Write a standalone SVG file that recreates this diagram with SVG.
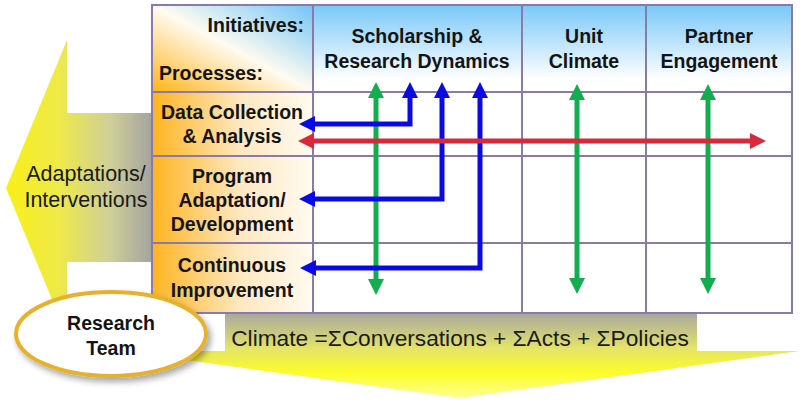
<svg xmlns="http://www.w3.org/2000/svg" width="800" height="400" viewBox="0 0 800 400">
<defs>
<style>
.b{font-family:"Liberation Sans",Arial,sans-serif;font-weight:bold;font-size:19.5px;fill:#141414;text-anchor:middle}
.r{font-family:"Liberation Sans",Arial,sans-serif;font-size:21.5px;fill:#1a1a1a;text-anchor:middle}
.grid{stroke:#8a7aa8;stroke-width:2}
.g{fill:none;stroke:#12ad4f;stroke-width:5}
.bl{fill:none;stroke:#0a0ae6;stroke-width:5;stroke-linejoin:miter}
.rd{fill:none;stroke:#d8283a;stroke-width:5}
</style>
<linearGradient id="gLeft" gradientUnits="userSpaceOnUse" x1="6" y1="0" x2="155" y2="0">
<stop offset="0" stop-color="#f8f018"/><stop offset="0.35" stop-color="#eeea48"/><stop offset="0.7" stop-color="#cfcf98"/><stop offset="1" stop-color="#a0a0a0"/>
</linearGradient>
<linearGradient id="gDown" gradientUnits="userSpaceOnUse" x1="0" y1="313" x2="0" y2="398">
<stop offset="0" stop-color="#a8a8a0"/><stop offset="0.42" stop-color="#e4e468"/><stop offset="0.7" stop-color="#fcfc28"/><stop offset="1" stop-color="#ffff90"/>
</linearGradient>
<linearGradient id="gHead" x1="0" y1="0" x2="0" y2="1">
<stop offset="0" stop-color="#78c8f8"/><stop offset="0.85" stop-color="#ffffff"/>
</linearGradient>
<linearGradient id="gCorner" x1="0" y1="1" x2="1" y2="0">
<stop offset="0" stop-color="#ffb418"/><stop offset="0.5" stop-color="#fffbf0"/><stop offset="1" stop-color="#70c4f8"/>
</linearGradient>
<linearGradient id="gRow" x1="0" y1="0" x2="1" y2="0">
<stop offset="0" stop-color="#ffb420"/><stop offset="0.55" stop-color="#fde8c0"/><stop offset="1" stop-color="#fffaf0"/>
</linearGradient>
<filter id="shadow" x="-20%" y="-20%" width="140%" height="150%">
<feDropShadow dx="3" dy="4" stdDeviation="3" flood-color="#000" flood-opacity="0.35"/>
</filter>
<marker id="mG" viewBox="0 0 16 16" markerWidth="16" markerHeight="16" markerUnits="userSpaceOnUse" refX="4" refY="8" orient="auto-start-reverse"><path d="M0,0 L16,8 L0,16 z" fill="#12ad4f"/></marker>
<marker id="mB" viewBox="0 0 16 16" markerWidth="16" markerHeight="16" markerUnits="userSpaceOnUse" refX="4" refY="8" orient="auto-start-reverse"><path d="M0,0 L16,8 L0,16 z" fill="#0a0ae6"/></marker>
<marker id="mR" viewBox="0 0 16 16" markerWidth="16" markerHeight="16" markerUnits="userSpaceOnUse" refX="4" refY="8" orient="auto-start-reverse"><path d="M0,0 L16,8 L0,16 z" fill="#d8283a"/></marker>
</defs>
<rect width="800" height="400" fill="#ffffff"/>

<g id="adaptations-arrow">
<path d="M160,113 H67 V40 L6,188 L67,336 V262 H160 Z" fill="url(#gLeft)"/>
<text class="r" x="86" y="181">Adaptations/</text>
<text class="r" x="86" y="207">Interventions</text>
</g>

<g id="climate-arrow">
<path d="M225,300 H697 V351 H800 L460,398 L120,351 H225 Z" fill="url(#gDown)"/>
<text class="r" x="460" y="346" style="font-size:22.7px">Climate =ΣConversations + ΣActs + ΣPolicies</text>
</g>

<g id="table">
<g id="corner-cell">
<rect x="152" y="5" width="161" height="87" fill="url(#gCorner)"/>
<text class="b" x="304" y="32" style="text-anchor:end">Initiatives:</text>
<text class="b" x="159" y="80" style="text-anchor:start">Processes:</text>
</g>
<g id="init-scholarship">
<rect x="313" y="5" width="209" height="87" fill="url(#gHead)"/>
<text class="b" x="417" y="43">Scholarship &amp;</text>
<text class="b" x="417" y="68">Research Dynamics</text>
</g>
<g id="init-unit-climate">
<rect x="522" y="5" width="124" height="87" fill="url(#gHead)"/>
<text class="b" x="584" y="43">Unit</text>
<text class="b" x="584" y="68">Climate</text>
</g>
<g id="init-partner">
<rect x="646" y="5" width="146" height="87" fill="url(#gHead)"/>
<text class="b" x="719" y="43">Partner</text>
<text class="b" x="719" y="68">Engagement</text>
</g>
<g id="proc-data">
<rect x="152" y="92" width="161" height="64" fill="url(#gRow)"/>
<text class="b" x="232" y="119">Data Collection</text>
<text class="b" x="232" y="143">&amp; Analysis</text>
</g>
<g id="proc-program">
<rect x="152" y="156" width="161" height="87" fill="url(#gRow)"/>
<text class="b" x="232" y="183">Program</text>
<text class="b" x="232" y="207">Adaptation/</text>
<text class="b" x="232" y="231">Development</text>
</g>
<g id="proc-continuous">
<rect x="152" y="243" width="161" height="70" fill="url(#gRow)"/>
<text class="b" x="232" y="272">Continuous</text>
<text class="b" x="232" y="297">Improvement</text>
</g>
<rect x="313" y="92" width="479" height="221" fill="#ffffff"/>
<g id="grid-lines" class="grid" fill="none">
<rect x="152" y="5" width="640" height="308"/>
<path d="M313,5 V313 M522,5 V313 M646,5 V313 M152,92 H792 M152,156 H792 M152,243 H792"/>
</g>
</g>

<g id="connectors">
<path class="g" d="M376,94 V283" marker-start="url(#mG)" marker-end="url(#mG)"/>
<path class="g" d="M577,96 V282" marker-start="url(#mG)" marker-end="url(#mG)"/>
<path class="g" d="M708,96 V282" marker-start="url(#mG)" marker-end="url(#mG)"/>
<path class="bl" d="M311,124 H410 V94" marker-start="url(#mB)" marker-end="url(#mB)"/>
<path class="bl" d="M311,199 H442 V94" marker-start="url(#mB)" marker-end="url(#mB)"/>
<path class="bl" d="M312,268 H480 V94" marker-start="url(#mB)" marker-end="url(#mB)"/>
<path class="rd" d="M310,141 H754" marker-start="url(#mR)" marker-end="url(#mR)"/>
</g>

<g id="research-team">
<ellipse cx="111" cy="334" rx="95" ry="42" fill="#ffffff" stroke="#e6b22e" stroke-width="4" filter="url(#shadow)"/>
<text class="b" x="111" y="330">Research</text>
<text class="b" x="111" y="355">Team</text>
</g>
</svg>
